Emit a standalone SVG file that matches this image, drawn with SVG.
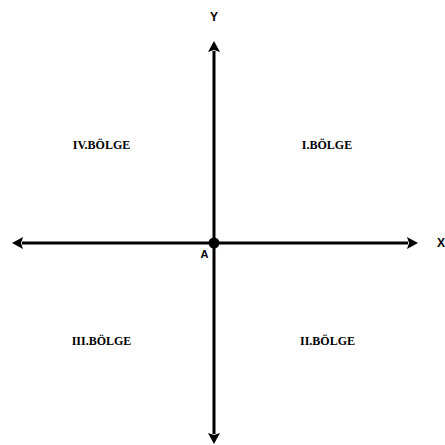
<svg xmlns="http://www.w3.org/2000/svg" width="445" height="445" viewBox="0 0 445 445">
  <style>
    .axis { stroke: #000; stroke-width: 3; fill: none; }
    .region { font-family: "Liberation Serif", "Times New Roman", serif; font-weight: bold; font-size: 12px; fill: #000; text-anchor: middle; }
    .lbl { font-family: "Liberation Sans", Arial, sans-serif; font-weight: bold; fill: #000; text-anchor: middle; }
  </style>
  <defs>
    <marker id="arrow" viewBox="0 0 11 12" markerWidth="11" markerHeight="12" refX="1" refY="6" markerUnits="userSpaceOnUse" orient="auto-start-reverse">
      <path d="M0,0 L11,6 L0,12 L2,6 z" fill="#000"/>
    </marker>
  </defs>
  <rect width="445" height="445" fill="#fff"/>
  <g id="connectors">
    <line class="axis" x1="22" y1="243" x2="408" y2="243" marker-start="url(#arrow)" marker-end="url(#arrow)"/>
    <line class="axis" x1="214" y1="51" x2="214" y2="434" marker-start="url(#arrow)" marker-end="url(#arrow)"/>
  </g>
  <g id="origin">
    <circle cx="214" cy="243" r="5.5" fill="#000"/>
    <text class="lbl" x="204.5" y="258" font-size="11">A</text>
  </g>
  <g id="label-y"><text class="lbl" x="214" y="21" font-size="12">Y</text></g>
  <g id="label-x"><text class="lbl" x="441" y="247" font-size="12">X</text></g>
  <g id="region-1"><text class="region" x="327" y="149">I.BÖLGE</text></g>
  <g id="region-2"><text class="region" x="327.5" y="345">II.BÖLGE</text></g>
  <g id="region-3"><text class="region" x="101.5" y="345">III.BÖLGE</text></g>
  <g id="region-4"><text class="region" x="101.5" y="149">IV.BÖLGE</text></g>
</svg>
